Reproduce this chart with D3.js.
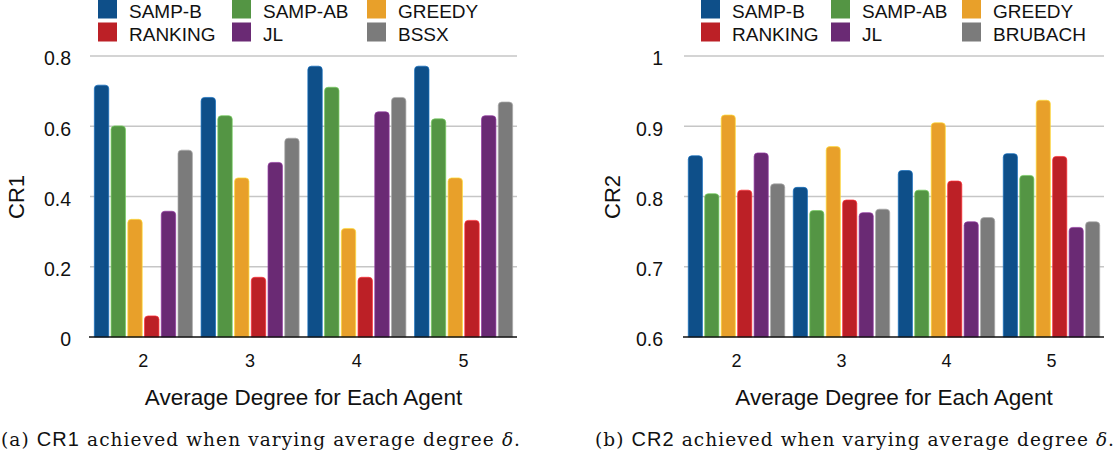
<!DOCTYPE html>
<html>
<head>
<meta charset="utf-8">
<script src="https://cdn.jsdelivr.net/npm/d3@7"></script>
<style>
  body { margin: 0; background: #fff; }
  svg { display: block; }
  .sans { font-family: "Liberation Sans", Arial, Helvetica, sans-serif; fill: #111; }
  .serif { font-family: "DejaVu Serif", "Liberation Serif", serif; fill: #111; }
</style>
</head>
<body>
<svg id="chart" width="1114" height="461"></svg>
<script>
// data
const degrees = ['2', '3', '4', '5'];
const methodsCR1 = ['SAMP-B', 'SAMP-AB', 'GREEDY', 'RANKING', 'JL', 'BSSX'];
const methodsCR2 = ['SAMP-B', 'SAMP-AB', 'GREEDY', 'RANKING', 'JL', 'BRUBACH'];
const barColors = ['#0e4f89', '#549544', '#e8a02a', '#bc2026', '#6a2a74', '#7b7b7b'];

const cr1SampB   = [0.717, 0.682, 0.771, 0.771];
const cr1SampAB  = [0.601, 0.630, 0.711, 0.621];
const cr1Greedy  = [0.335, 0.453, 0.309, 0.453];
const cr1Ranking = [0.060, 0.170, 0.170, 0.332];
const cr1JL      = [0.358, 0.497, 0.641, 0.630];
const cr1Bssx    = [0.532, 0.566, 0.682, 0.669];

const cr2SampB    = [0.858, 0.813, 0.837, 0.861];
const cr2SampAB   = [0.804, 0.780, 0.809, 0.830];
const cr2Greedy   = [0.916, 0.871, 0.905, 0.937];
const cr2Ranking  = [0.809, 0.795, 0.822, 0.857];
const cr2JL       = [0.862, 0.777, 0.764, 0.756];
const cr2Brubach  = [0.818, 0.782, 0.770, 0.764];

const cr1Ticks = [0, 0.2, 0.4, 0.6, 0.8];
const cr2Ticks = [0.6, 0.7, 0.8, 0.9, 1];

const svg = d3.select('#chart');

// path for a bar with rounded top corners
function barPath(x, y, w, h, r) {
  r = Math.min(r, h, w / 2);
  return `M${x},${y + h}V${y + r}Q${x},${y} ${x + r},${y}H${x + w - r}Q${x + w},${y} ${x + w},${y + r}V${y + h}Z`;
}

function drawPanel(opts) {
  const g = svg.append('g');
  const { left, right, top, bottom } = opts;

  const x = d3.scaleBand().domain(degrees).range([left, right]);
  const xSub = d3.scaleBand().domain(d3.range(6))
    .range([0, x.bandwidth()]).paddingInner(0.14).paddingOuter(0.26);
  const y = d3.scaleLinear().domain(opts.domain).range([bottom, top]);

  // grid
  g.selectAll('line.grid').data(opts.ticks.slice(1)).join('line')
    .attr('class', 'grid')
    .attr('x1', left).attr('x2', right)
    .attr('y1', d => y(d)).attr('y2', d => y(d))
    .attr('stroke', '#c6c6c6').attr('stroke-width', 1.5);

  // y tick labels
  g.selectAll('text.ytick').data(opts.ticks).join('text')
    .attr('class', 'ytick sans')
    .attr('x', opts.tickRight)
    .attr('y', d => y(d))
    .attr('dy', '0.48em')
    .attr('text-anchor', 'end')
    .attr('font-size', 19.5)
    .text(d => String(d));

  // bars
  const groups = g.selectAll('g.grp').data(degrees).join('g')
    .attr('class', 'grp')
    .attr('transform', d => `translate(${x(d)},0)`);

  groups.selectAll('path').data((d, i) => opts.series.map((s, k) => ({ k, v: s[i] })))
    .join('path')
    .attr('d', d => barPath(xSub(d.k), y(d.v), xSub.bandwidth(), y(opts.domain[0]) - y(d.v), 3.5))
    .attr('fill', d => barColors[d.k])
    .attr('stroke', d => d3.color(barColors[d.k]).brighter(0.9))
    .attr('stroke-width', 0.7);

  // baseline
  g.append('line')
    .attr('x1', left - 1).attr('x2', right)
    .attr('y1', bottom).attr('y2', bottom)
    .attr('stroke', '#111').attr('stroke-width', 1.6);

  // x tick labels
  g.selectAll('text.xtick').data(degrees).join('text')
    .attr('class', 'xtick sans')
    .attr('x', d => x(d) + x.bandwidth() / 2)
    .attr('y', 367)
    .attr('text-anchor', 'middle')
    .attr('font-size', 18)
    .text(d => d);

  // axis titles
  g.append('text').attr('class', 'sans')
    .attr('x', (left + right) / 2).attr('y', 405)
    .attr('text-anchor', 'middle').attr('font-size', 22.5)
    .text('Average Degree for Each Agent');

  g.append('text').attr('class', 'sans')
    .attr('transform', `translate(${opts.yTitleX},197) rotate(-90)`)
    .attr('text-anchor', 'middle').attr('dy', '0.35em').attr('font-size', 22)
    .text(opts.yTitle);

  // legend
  const leg = g.selectAll('g.leg').data(opts.methods).join('g')
    .attr('class', 'leg')
    .attr('transform', (d, i) => `translate(${opts.legendCols[i % 3]},${i < 3 ? 0 : 23})`);
  leg.append('rect')
    .attr('y', -0.5)
    .attr('width', 19).attr('height', 19)
    .attr('fill', (d, i) => barColors[i]);
  leg.append('text').attr('class', 'sans')
    .attr('x', opts.legendGap).attr('y', 17.5)
    .attr('font-size', 19)
    .text(d => d);

  // caption
  const cap = g.append('text').attr('class', 'serif')
    .attr('x', opts.capX).attr('y', 446)
    .attr('font-size', 18.5)
    .attr('textLength', 519)
    .attr('lengthAdjust', 'spacing');
  cap.append('tspan').text(opts.capLabel + ' ');
  cap.append('tspan').attr('class', 'sans').attr('font-size', 20).text(opts.yTitle);
  cap.append('tspan').text(' achieved when varying average degree ');
  cap.append('tspan').attr('font-style', 'italic').text('δ');
  cap.append('tspan').text('.');
}

drawPanel({
  left: 90, right: 517, top: 56, bottom: 337,
  domain: [0, 0.8], ticks: cr1Ticks, tickRight: 71,
  series: [cr1SampB, cr1SampAB, cr1Greedy, cr1Ranking, cr1JL, cr1Bssx],
  methods: methodsCR1, legendCols: [98, 232, 367], legendGap: 31,
  yTitle: 'CR1', yTitleX: 16.5, capLabel: '(a)', capX: 1
});

drawPanel({
  left: 684, right: 1104, top: 56, bottom: 337,
  domain: [0.6, 1.0], ticks: cr2Ticks, tickRight: 663,
  series: [cr2SampB, cr2SampAB, cr2Greedy, cr2Ranking, cr2JL, cr2Brubach],
  methods: methodsCR2, legendCols: [701, 831, 962], legendGap: 31,
  yTitle: 'CR2', yTitleX: 612, capLabel: '(b)', capX: 595
});
</script>
</body>
</html>
